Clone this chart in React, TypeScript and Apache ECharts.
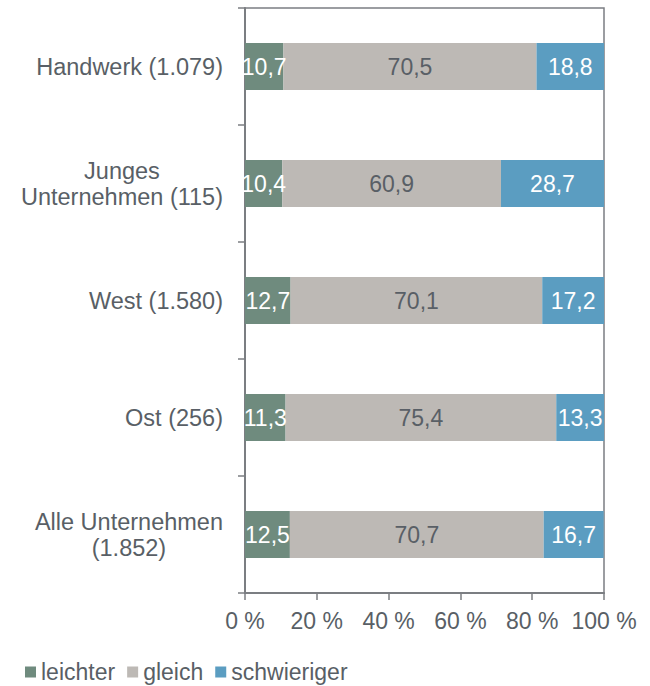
import React, { useEffect, useRef } from "react";
import * as echarts from "echarts";

const categories = [
  "Handwerk (1.079)",
  "Junges\nUnternehmen (115)",
  "West (1.580)",
  "Ost (256)",
  "Alle Unternehmen\n(1.852)",
];
const leichter = [10.7, 10.4, 12.7, 11.3, 12.5];
const gleich = [70.5, 60.9, 70.1, 75.4, 70.7];
const schwieriger = [18.8, 28.7, 17.2, 13.3, 16.7];
const seriesNames = ["leichter", "gleich", "schwieriger"];
const xTicks = [0, 20, 40, 60, 80, 100];

const FONT = "'Liberation Sans', Arial, sans-serif";
const FS = 23;
const YFS = 23.5;
const TEXT = "#595f66";
const AXIS = "#7b7e82";
const colors = ["#6f8b7e", "#bdb9b5", "#5b9dc1"];

export default function App() {
  const ref = useRef<HTMLDivElement>(null);
  useEffect(() => {
    document.body.style.margin = "0";
    if (!ref.current) return;
    const chart = echarts.init(ref.current, undefined, { renderer: "svg" });
    const fmt = (p: any) => String(p.value).replace(".", ",");
    const mk = (name: string, data: number[], i: number) => ({
      name,
      type: "bar",
      stack: "total",
      data,
      barWidth: 47,
      itemStyle: { color: colors[i] },
      label: {
        show: true,
        position: "inside",
        formatter: fmt,
        fontFamily: FONT,
        fontSize: FS,
        color: i === 1 ? TEXT : "#ffffff",
      },
    });
    chart.setOption({
      animation: false,
      textStyle: { fontFamily: FONT },
      grid: {
        left: 245,
        right: 46,
        top: 8,
        bottom: 93,
        show: true,
        borderColor: AXIS,
        borderWidth: 1.5,
      },
      legend: {
        top: 658,
        left: 25,
        padding: 0,
        itemWidth: 11,
        itemHeight: 11,
        itemGap: 12,
        icon: "rect",
        textStyle: { fontFamily: FONT, fontSize: FS, color: TEXT, lineHeight: 28, padding: [0, 0, 0, 0] },
        data: seriesNames,
      },
      xAxis: {
        type: "value",
        min: 0,
        max: 100,
        interval: 20,
        splitLine: { show: false },
        axisLine: { show: true, lineStyle: { color: AXIS, width: 2 } },
        axisTick: { show: true, length: 7, lineStyle: { color: AXIS, width: 1.5 } },
        axisLabel: {
          margin: 16,
          fontFamily: FONT,
          fontSize: FS,
          color: TEXT,
          formatter: (v: number) => (xTicks.includes(v) ? `${v} %` : ""),
        },
      },
      yAxis: {
        type: "category",
        inverse: true,
        data: categories,
        axisLine: { show: true, lineStyle: { color: AXIS, width: 2 } },
        axisTick: { show: true, length: 7, lineStyle: { color: AXIS, width: 1.5 } },
        axisLabel: {
          margin: 22,
          fontFamily: FONT,
          fontSize: YFS,
          color: TEXT,
          lineHeight: 26,
          formatter: (v: string) =>
            v
              .split("\n")
              .map((l) => `{c|${l}}`)
              .join("\n"),
          rich: {
            c: {
              align: "center",
              fontFamily: FONT,
              fontSize: YFS,
              color: TEXT,
              lineHeight: 26,
            },
          },
        },
      },
      series: [
        mk(seriesNames[0], leichter, 0),
        mk(seriesNames[1], gleich, 1),
        mk(seriesNames[2], schwieriger, 2),
      ],
    });
    return () => chart.dispose();
  }, []);
  return <div ref={ref} style={{ width: 650, height: 686 }} />;
}
